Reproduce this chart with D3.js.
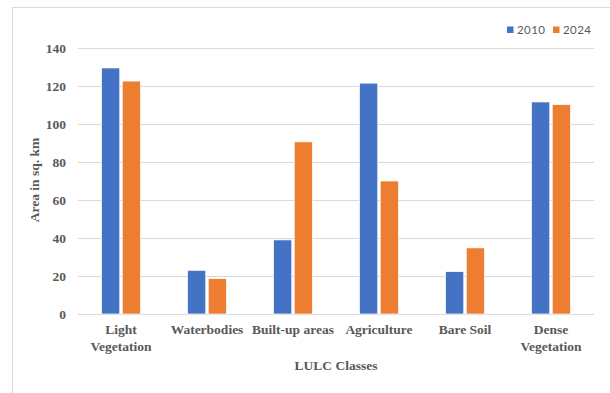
<!DOCTYPE html>
<html>
<head>
<meta charset="utf-8">
<script src="https://cdn.jsdelivr.net/npm/d3@7"></script>
<style>
  body { margin: 0; background: #fff; }
  svg { display: block; }
</style>
</head>
<body>
<div id="chart"></div>
<script>
// data
var classes = ["Light Vegetation", "Waterbodies", "Built-up areas", "Agriculture", "Bare Soil", "Dense Vegetation"];
var years = ["2010", "2024"];
var area2010 = [129.5, 23, 39, 121.5, 22.3, 111.6];
var area2024 = [122.6, 18.6, 90.6, 70, 34.8, 110.2];
var yTicks = [0, 20, 40, 60, 80, 100, 120, 140];

var colors = ["#4472C4", "#ED7D31"];
var textGray = "#595959";

var width = 610, height = 393;
var margin = { top: 48, left: 78, right: 16, bottom: 79 };

var svg = d3.select("#chart").append("svg")
    .attr("width", width)
    .attr("height", height);

// outer frame, runs off the right and bottom edges
svg.append("rect")
    .attr("x", 12.5).attr("y", 7.5)
    .attr("width", 640).attr("height", 420)
    .attr("fill", "none")
    .attr("stroke", "#d9d9d9");

var x0 = d3.scaleBand()
    .domain(classes)
    .range([margin.left, width - margin.right])
    .paddingInner(0.49)
    .paddingOuter(0.245);

var x1 = d3.scaleBand()
    .domain(years)
    .range([0, x0.bandwidth()])
    .padding(0.12);

var y = d3.scaleLinear()
    .domain([0, 140])
    .range([height - margin.bottom, margin.top]);

// gridlines
svg.append("g")
    .selectAll("line")
    .data(yTicks)
    .join("line")
    .attr("x1", margin.left)
    .attr("x2", width - margin.right)
    .attr("y1", d => Math.round(y(d)) + 0.5)
    .attr("y2", d => Math.round(y(d)) + 0.5)
    .attr("stroke", "#d9d9d9")
    .attr("stroke-width", 1);

// y axis labels
var yAxis = d3.axisLeft(y).tickValues(yTicks).tickSize(0).tickPadding(12);
svg.append("g")
    .attr("transform", `translate(${margin.left},0)`)
    .call(yAxis)
    .call(g => g.select(".domain").remove())
    .selectAll("text")
    .attr("font-family", "'Liberation Serif', 'Times New Roman', serif")
    .attr("font-weight", "bold")
    .attr("font-size", "13.5px")
    .attr("fill", textGray);

// bars
var rows = classes.map((c, i) => ({ cls: c, vals: [area2010[i], area2024[i]] }));

var groups = svg.append("g")
    .selectAll("g")
    .data(rows)
    .join("g")
    .attr("transform", d => `translate(${x0(d.cls)},0)`);

groups.selectAll("rect")
    .data(d => d.vals.map((v, j) => ({ year: years[j], v: v, j: j })))
    .join("rect")
    .attr("x", d => x1(d.year))
    .attr("width", x1.bandwidth())
    .attr("y", d => y(d.v))
    .attr("height", d => y(0) - y(d.v))
    .attr("fill", d => colors[d.j])
    .attr("stroke", "#fff")
    .attr("stroke-width", 0.7);

// x category labels
var xAxis = d3.axisBottom(x0).tickSize(0).tickFormat("");
svg.append("g")
    .attr("transform", `translate(0,${y(0)})`)
    .call(xAxis)
    .call(g => g.select(".domain").remove());

var labelLines = {
    "Light Vegetation": ["Light", "Vegetation"],
    "Dense Vegetation": ["Dense", "Vegetation"]
};

var xl = svg.append("g")
    .selectAll("text")
    .data(classes)
    .join("text")
    .attr("x", d => x0(d) + x0.bandwidth() / 2)
    .attr("y", y(0) + 20)
    .attr("text-anchor", "middle")
    .attr("font-family", "'Liberation Serif', 'Times New Roman', serif")
    .attr("font-weight", "bold")
    .attr("font-size", "13.5px")
    .attr("fill", textGray);

xl.each(function(d) {
    var lines = labelLines[d] || [d];
    var t = d3.select(this);
    lines.forEach((ln, k) => {
        t.append("tspan")
            .attr("x", x0(d) + x0.bandwidth() / 2)
            .attr("dy", k === 0 ? 0 : 16.5)
            .text(ln);
    });
});

// axis titles
svg.append("text")
    .attr("x", 336)
    .attr("y", 370)
    .attr("text-anchor", "middle")
    .attr("font-family", "'Liberation Serif', 'Times New Roman', serif")
    .attr("font-weight", "bold")
    .attr("font-size", "13.5px")
    .attr("fill", textGray)
    .text("LULC Classes");

svg.append("text")
    .attr("transform", "translate(39,180) rotate(-90)")
    .attr("text-anchor", "middle")
    .attr("font-family", "'Liberation Serif', 'Times New Roman', serif")
    .attr("font-weight", "bold")
    .attr("font-size", "13.5px")
    .attr("fill", textGray)
    .text("Area in sq. km");

// legend
var legendX = [507, 553];
var legend = svg.append("g")
    .selectAll("g")
    .data(years)
    .join("g")
    .attr("transform", (d, i) => `translate(${legendX[i]},26.5)`);

legend.append("rect")
    .attr("width", 6.5)
    .attr("height", 6.5)
    .attr("fill", (d, i) => colors[i]);

legend.append("text")
    .attr("x", 10)
    .attr("y", 7.5)
    .attr("font-family", "Lato, 'Open Sans', sans-serif")
    .attr("font-size", "11.5px")
    .attr("letter-spacing", "0.4px")
    .attr("fill", textGray)
    .text(d => d);
</script>
</body>
</html>
